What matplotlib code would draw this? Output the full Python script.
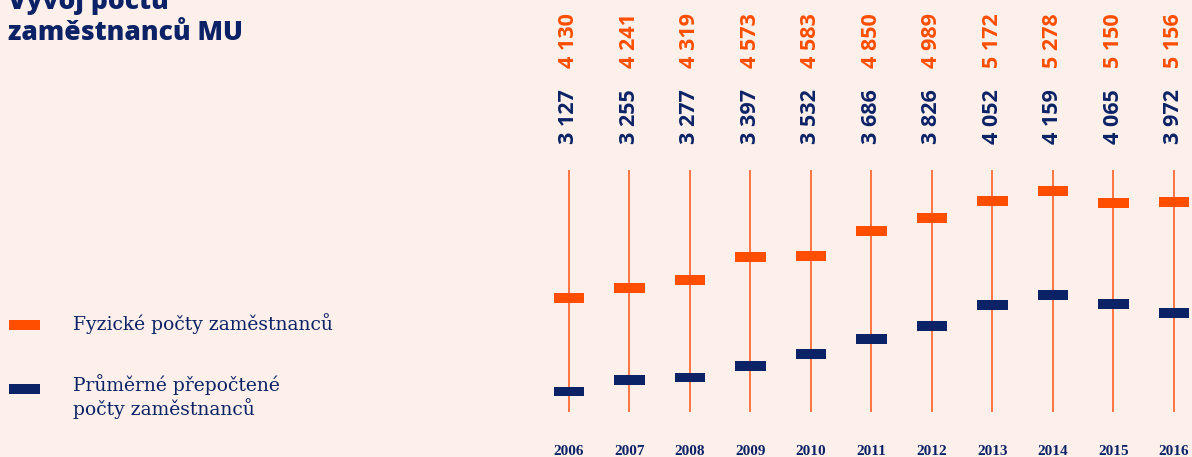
import matplotlib
matplotlib.use("Agg")
import matplotlib.pyplot as plt
import matplotlib.transforms as mtransforms
from matplotlib.patches import Rectangle

years = [2006, 2007, 2008, 2009, 2010, 2011, 2012, 2013, 2014, 2015, 2016]
fyzicke = [4130, 4241, 4319, 4573, 4583, 4850, 4989, 5172, 5278, 5150, 5156]
prepoctene = [3127, 3255, 3277, 3397, 3532, 3686, 3826, 4052, 4159, 4065, 3972]
labels_fyz = ["4 130", "4 241", "4 319", "4 573", "4 583", "4 850", "4 989", "5 172", "5 278", "5 150", "5 156"]
labels_pre = ["3 127", "3 255", "3 277", "3 397", "3 532", "3 686", "3 826", "4 052", "4 159", "4 065", "3 972"]
title = "Vývoj počtu\nzaměstnanců MU"
legend_fyz = "Fyzické počty zaměstnanců"
legend_pre = "Průměrné přepočtené\npočty zaměstnanců"

BG = "#FDF0EB"
ORANGE = "#FF4E00"
LINE = "#FF6A33"
NAVY = "#0B2266"

W, H = 1192, 457
fig = plt.figure(figsize=(W / 100, H / 100), dpi=100, facecolor=BG)

# axes placed in pixel geometry
x0, x1 = 540, 1192
ytop, ybot = 170, 412
ax = fig.add_axes([x0 / W, 1 - ybot / H, (x1 - x0) / W, (ybot - ytop) / H])
ax.set_facecolor(BG)
ax.set_xlim(2005.521, 2016.298)
ax.set_ylim(2907, 5503)
ax.axis("off")

for y in years:
    ax.axvline(y, color=LINE, lw=1.3, zorder=1)

bar_w = 0.51
bar_h = 107
ax.bar(years, [bar_h] * len(years), bottom=[v - bar_h / 2 for v in fyzicke],
       width=bar_w, color=ORANGE, zorder=3, linewidth=0)
ax.bar(years, [bar_h] * len(years), bottom=[v - bar_h / 2 for v in prepoctene],
       width=bar_w, color=NAVY, zorder=3, linewidth=0)

trans = mtransforms.blended_transform_factory(ax.transData, fig.transFigure)
for yr, lf, lp in zip(years, labels_fyz, labels_pre):
    ax.text(yr, 1 - 68 / H, lf, transform=trans, rotation=90, ha="center", va="bottom",
            color=ORANGE, fontsize=15.5, fontfamily="Open Sans", fontweight="bold", clip_on=False)
    ax.text(yr, 1 - 144 / H, lp, transform=trans, rotation=90, ha="center", va="bottom",
            color=NAVY, fontsize=15.5, fontfamily="Open Sans", fontweight="bold", clip_on=False)
    ax.text(yr, 1 - 455 / H, str(yr), transform=trans, ha="center", va="baseline",
            color=NAVY, fontsize=11, fontfamily="Liberation Serif", fontweight="bold", clip_on=False)

# title
fig.text(8 / W, 1 - 40 / H, title, ha="left", va="baseline", color=NAVY,
         fontsize=19, fontfamily="Open Sans", fontweight=800, linespacing=1.25)

# legend
fig.add_artist(Rectangle((9 / W, 1 - 330 / H), 31 / W, 10 / H, transform=fig.transFigure,
                         color=ORANGE, lw=0))
fig.add_artist(Rectangle((9 / W, 1 - 394 / H), 31 / W, 10 / H, transform=fig.transFigure,
                         color=NAVY, lw=0))
fig.text(73 / W, 1 - 330 / H, legend_fyz, ha="left", va="baseline", color=NAVY,
         fontsize=13.5, fontfamily="DejaVu Serif")
fig.text(73 / W, 1 - 415 / H, legend_pre, ha="left", va="baseline", color=NAVY,
         fontsize=13.5, fontfamily="DejaVu Serif", linespacing=1.2)

fig.savefig("out.png", dpi=100, facecolor=BG)
